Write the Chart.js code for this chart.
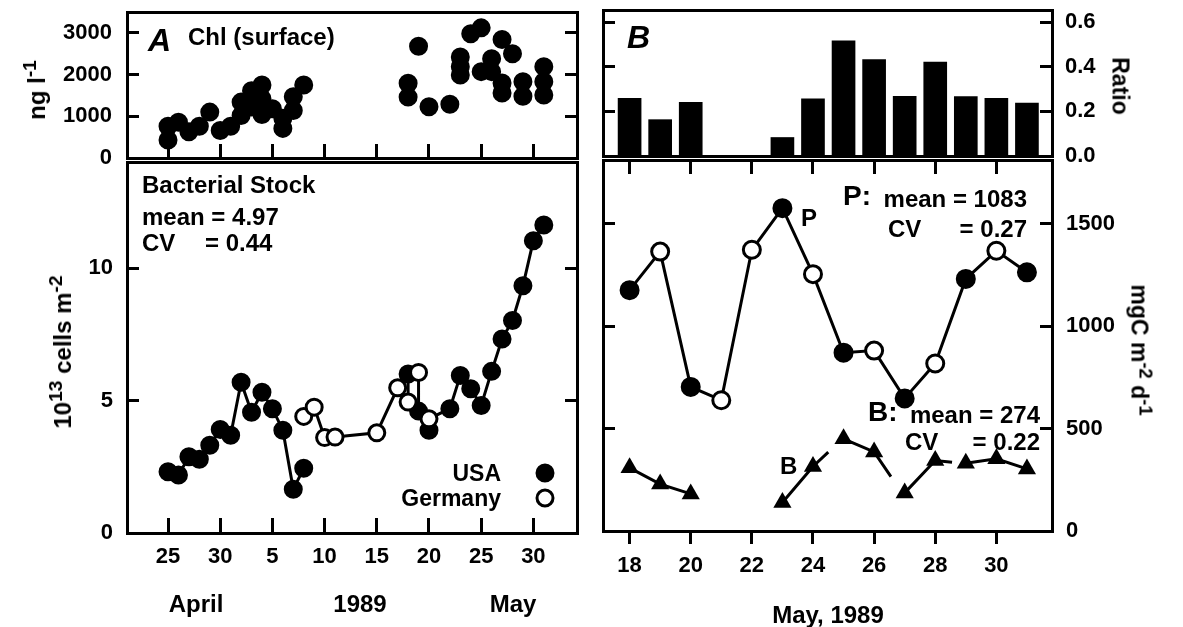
<!DOCTYPE html>
<html>
<head>
<meta charset="utf-8">
<script src="https://cdn.jsdelivr.net/npm/chart.js@4.4.1/dist/chart.umd.min.js"></script>
<style>
  html, body { margin: 0; padding: 0; background: #fff; }
  #page { position: relative; width: 1183px; height: 627px; overflow: hidden;
          font-family: 'Liberation Sans', Arial, Helvetica, sans-serif; font-weight: bold; color: #000; }
  canvas { position: absolute; }
  .t { position: absolute; line-height: 1; white-space: nowrap; transform: translateY(-50%); font-size: 24px; }
  .c { position: absolute; line-height: 1; white-space: nowrap; transform: translate(-50%, -50%); font-size: 24px; }
  .rl { transform: translate(-50%, -50%) rotate(-90deg); }
  .rr { transform: translate(-50%, -50%) rotate(90deg); }
  .sup { position: relative; top: -0.45em; font-size: 0.8em; }
  .dot { position: absolute; width: 19px; height: 19px; border-radius: 50%; box-sizing: border-box;
         transform: translate(-50%, -50%); border: 3px solid #000; }
</style>
</head>
<body>
<div id="page">
  <canvas id="chl" width="600" height="170" style="left:0;top:0"></canvas>
  <canvas id="bact" width="600" height="487" style="left:0;top:140px"></canvas>
  <canvas id="ratio" width="593" height="170" style="left:590px;top:0"></canvas>
  <canvas id="prod" width="593" height="487" style="left:590px;top:140px"></canvas>

  <!-- panel A text -->
  <div class="t" style="left:148px;top:40px;font-size:32px;font-style:italic">A</div>
  <div class="t" style="left:188px;top:37px">Chl (surface)</div>
  <div class="c rl" style="left:37px;top:90px">ng l<span class="sup">-1</span></div>
  <div class="c rl" style="left:63px;top:352px">10<span class="sup">13</span> cells m<span class="sup">-2</span></div>
  <div class="t" style="left:142px;top:185px">Bacterial Stock</div>
  <div class="t" style="left:142px;top:217px">mean = 4.97</div>
  <div class="t" style="left:142px;top:243px">CV</div>
  <div class="t" style="left:205px;top:243px">= 0.44</div>
  <div class="t" style="right:682px;top:473px;font-size:23px">USA</div>
  <div class="t" style="right:682px;top:498px;font-size:23px">Germany</div>
  <div class="dot" style="left:545px;top:473px;background:#000"></div>
  <div class="dot" style="left:545px;top:498px;background:#fff"></div>
  <div class="c" style="left:196px;top:604px">April</div>
  <div class="c" style="left:360px;top:604px">1989</div>
  <div class="c" style="left:513px;top:604px">May</div>

  <!-- panel B text -->
  <div class="t" style="left:627px;top:37px;font-size:32px;font-style:italic">B</div>
  <div class="c rr" style="left:1120px;top:86px;font-size:23px">Ratio</div>
  <div class="c rr" style="left:1139px;top:350px;font-size:23px">mgC m<span class="sup">-2</span> d<span class="sup">-1</span></div>
  <div class="t" style="left:843px;top:196px;font-size:28px">P:</div>
  <div class="t" style="right:156px;top:199px">mean = 1083</div>
  <div class="t" style="left:888px;top:229px">CV</div>
  <div class="t" style="right:156px;top:229px">= 0.27</div>
  <div class="t" style="left:801px;top:218px">P</div>
  <div class="t" style="left:868px;top:412px;font-size:28px">B:</div>
  <div class="t" style="right:143px;top:415px">mean = 274</div>
  <div class="t" style="left:905px;top:442px">CV</div>
  <div class="t" style="right:143px;top:442px">= 0.22</div>
  <div class="t" style="left:780px;top:466px">B</div>
  <div class="c" style="left:828px;top:615px">May, 1989</div>
</div>

<script>
// ================= Data =================
// A: day numbers counted from April (May 1 = 31)
const chlDays = [25, 25, 26, 27, 28, 29, 30, 31, 32, 32, 33, 33, 34, 34, 34, 35, 36, 36, 37, 37, 38,
                 48, 48, 49, 50, 52, 53, 53, 53, 54, 55, 55, 56, 56, 57, 57, 57, 58, 59, 59, 61, 61, 61];
const chlVals = [430, 760, 860, 630, 760, 1100, 660, 760, 1020, 1340, 1610, 1220, 1750, 1420, 1040, 1180, 950, 710, 1470, 1140, 1750,
                 1790, 1460, 2680, 1230, 1290, 2420, 2190, 1990, 2980, 3120, 2070, 2380, 2070, 2840, 1800, 1560, 2500, 1830, 1480, 2190, 1830, 1510];

const bactUsaDays = [25, 26, 27, 28, 29, 30, 31, 32, 33, 34, 35, 36, 37, 38, 48, 49, 50, 52, 53, 54, 55, 56, 57, 58, 59, 60, 61];
const bactUsa = [2.31, 2.19, 2.88, 2.78, 3.31, 3.91, 3.69, 5.69, 4.56, 5.31, 4.69, 3.88, 1.65, 2.44,
                 6.0, 4.6, 3.88, 4.69, 5.94, 5.44, 4.81, 6.1, 7.32, 8.02, 9.33, 11.03, 11.62];
const bactGerDays = [38, 39, 40, 41, 45, 47, 48, 49, 50];
const bactGer = [4.40, 4.75, 3.60, 3.62, 3.78, 5.48, 4.94, 6.06, 4.31];
// order in which the samples are joined ('|' = break)
const bactPath = ['U25', 'U26', 'U27', 'U28', 'U29', 'U30', 'U31', 'U32', 'U33', 'U34', 'U35', 'U36', 'U37', 'U38', '|',
                  'G38', 'G39', 'G40', 'G41', 'G45', 'G47', 'G48', 'U48', 'G49', 'U49', 'U50', 'G50',
                  'U52', 'U53', 'U54', 'U55', 'U56', 'U57', 'U58', 'U59', 'U60', 'U61'];

// B: days of May
const ratioDays = [18, 19, 20, 23, 24, 25, 26, 27, 28, 29, 30, 31];
const ratioVals = [0.259, 0.163, 0.241, 0.083, 0.256, 0.517, 0.433, 0.268, 0.421, 0.267, 0.259, 0.237];

const pDays = [18, 19, 20, 21, 22, 23, 24, 25, 26, 27, 28, 29, 30, 31];
const pVals = [1175, 1363, 703, 638, 1372, 1575, 1253, 870, 880, 647, 817, 1230, 1367, 1262];
const pCountry = ['USA', 'Germany', 'USA', 'Germany', 'Germany', 'USA', 'Germany', 'USA', 'Germany', 'USA', 'Germany', 'USA', 'Germany', 'USA'];

const bDays = [18, 19, 20, 23, 24, 25, 26, 27, 28, 29, 30, 31];
const bVals = [308, 229, 181, 139, 315, 450, 386, 186, 344, 331, 352, 303];
const bStubs = { 24: [24.5, 385], 26: [26.55, 265], 28: [28.55, 335] }; // unfinished joins as drawn
const bBreaks = [20, 24, 26, 28];

// ticks
const chlTicks = [0, 1000, 2000, 3000];
const bactTicks = [0, 5, 10];
const dayTicks = [25, 30, 35, 40, 45, 50, 55, 60];
const dayTickLabels = ['25', '30', '5', '10', '15', '20', '25', '30'];
const ratioTicks = [0, 0.2, 0.4, 0.6];
const ratioTickLabels = ['0.0', '0.2', '0.4', '0.6'];
const mayTicks = [18, 20, 22, 24, 26, 28, 30];
const prodTicks = [0, 500, 1000, 1500];


// ================= Helpers =================
Chart.defaults.font.family = "'Liberation Sans', Arial, Helvetica, sans-serif";
Chart.defaults.font.weight = 'bold';
Chart.defaults.font.size = 22;
Chart.defaults.color = '#000';

function axis(position, min, max, ticks, o) {
  return {
    type: 'linear', position, min, max, offset: false,
    afterBuildTicks: s => { s.ticks = ticks.map(v => ({ value: v })); },
    afterFit: s => {
      if (s.isHorizontal()) s.height = o.size; else s.width = o.size;
      s.paddingLeft = s.paddingRight = s.paddingTop = s.paddingBottom = 0;
    },
    border: { display: true, color: '#000', width: 3 },
    grid: { display: true, drawOnChartArea: false, drawTicks: true, tickLength: o.tl || 0,
            tickWidth: 3, tickColor: '#000', color: '#000', offset: false },
    ticks: {
      display: !!o.labels, padding: o.pad || 0, autoSkip: false, maxRotation: 0, minRotation: 0,
      font: { size: 22, weight: 'bold' }, color: '#000',
      callback: (v, i) => (o.labels ? o.labels[i] : '')
    }
  };
}

function baseOptions(padding, scales) {
  return {
    responsive: false, animation: false, events: [],
    layout: { padding },
    plugins: { legend: { display: false }, tooltip: { enabled: false } },
    scales
  };
}

const xy = (xs, ys) => xs.map((x, i) => ({ x, y: ys[i] }));

const A_MIN = 21.07, A_MAX = 64.18;
const B_MIN = 17.13, B_MAX = 31.82;


// ================= A: Chl (surface) =================
new Chart(document.getElementById('chl'), {
  type: 'scatter',
  data: {
    datasets: [{
      data: xy(chlDays, chlVals),
      pointRadius: 8.5, pointBorderWidth: 2,
      backgroundColor: '#000', borderColor: '#000'
    }]
  },
  options: baseOptions({ top: 12, right: 23, bottom: 0, left: 0 }, {
    x: axis('bottom', A_MIN, A_MAX, dayTicks, { size: 12, tl: -14 }),
    xt: axis('top', A_MIN, A_MAX, [], { size: 0 }),
    y: axis('left', 0, 3500, chlTicks, { size: 127, tl: -12, pad: 27, labels: chlTicks.map(String) }),
    yr: axis('right', 0, 3500, chlTicks, { size: 0, tl: -12 })
  })
});


// ================= A: Bacterial stock =================
const bactLine = bactPath.map(k => {
  if (k === '|') return { x: 38, y: null };
  const d = +k.slice(1);
  return k[0] === 'U'
    ? { x: d, y: bactUsa[bactUsaDays.indexOf(d)] }
    : { x: d, y: bactGer[bactGerDays.indexOf(d)] };
});

new Chart(document.getElementById('bact'), {
  type: 'scatter',
  data: {
    datasets: [
      { label: 'Germany', data: xy(bactGerDays, bactGer), pointRadius: 8, pointBorderWidth: 3,
        backgroundColor: '#fff', borderColor: '#000' },
      { label: 'USA', data: xy(bactUsaDays, bactUsa), pointRadius: 8.5, pointBorderWidth: 2,
        backgroundColor: '#000', borderColor: '#000' },
      { data: bactLine, showLine: true, pointRadius: 0, borderColor: '#000', borderWidth: 3, spanGaps: false }
    ]
  },
  options: baseOptions({ top: 22, right: 23, bottom: 0, left: 0 }, {
    x: axis('bottom', A_MIN, A_MAX, dayTicks, { size: 94, tl: -15, pad: 26, labels: dayTickLabels }),
    xt: axis('top', A_MIN, A_MAX, [], { size: 0 }),
    y: axis('left', 0, 14, bactTicks, { size: 127, tl: -12, pad: 26, labels: bactTicks.map(String) }),
    yr: axis('right', 0, 14, bactTicks, { size: 0, tl: -12 })
  })
});


// ================= B: Ratio bars =================
new Chart(document.getElementById('ratio'), {
  type: 'bar',
  data: {
    datasets: [{ data: xy(ratioDays, ratioVals), backgroundColor: '#000', borderWidth: 0, barThickness: 23 }]
  },
  options: baseOptions({ top: 10, right: 0, bottom: 0, left: 13 }, {
    x: axis('bottom', B_MIN, B_MAX, [], { size: 14 }),
    xt: axis('top', B_MIN, B_MAX, [], { size: 0 }),
    y: axis('left', 0, 0.655, ratioTicks, { size: 0, tl: -12 }),
    yr: axis('right', 0, 0.655, ratioTicks, { size: 131, tl: -12, pad: 25, labels: ratioTickLabels })
  })
});


// ================= B: Production (P) and bacterial production (B) =================
const bLine = [];
bDays.forEach((d, i) => {
  bLine.push({ x: d, y: bVals[i] });
  if (bStubs[d]) bLine.push({ x: bStubs[d][0], y: bStubs[d][1] });
  if (bBreaks.includes(d)) bLine.push({ x: d, y: null });
});

new Chart(document.getElementById('prod'), {
  type: 'scatter',
  data: {
    datasets: [
      { label: 'P', data: xy(pDays, pVals), showLine: true, borderColor: '#000', borderWidth: 3,
        pointRadius: 8.5, pointBorderWidth: 3, pointBorderColor: '#000',
        pointBackgroundColor: pCountry.map(c => (c === 'USA' ? '#000' : '#fff')) },
      { label: 'B', data: xy(bDays, bVals), pointStyle: 'triangle', pointRadius: 10.5, pointBorderWidth: 0,
        backgroundColor: '#000', borderColor: '#000' },
      { data: bLine, showLine: true, pointRadius: 0, borderColor: '#000', borderWidth: 3, spanGaps: false }
    ]
  },
  options: baseOptions({ top: 20, right: 0, bottom: 0, left: 13 }, {
    x: axis('bottom', B_MIN, B_MAX, mayTicks, { size: 96, tl: 13, pad: 9, labels: mayTicks.map(String) }),
    xt: axis('top', B_MIN, B_MAX, mayTicks, { size: 0, tl: -14 }),
    y: axis('left', 0, 1810, prodTicks, { size: 0, tl: -12 }),
    yr: axis('right', 0, 1810, prodTicks, { size: 131, tl: -12, pad: 26, labels: prodTicks.map(String) })
  })
});
</script>
</body>
</html>
